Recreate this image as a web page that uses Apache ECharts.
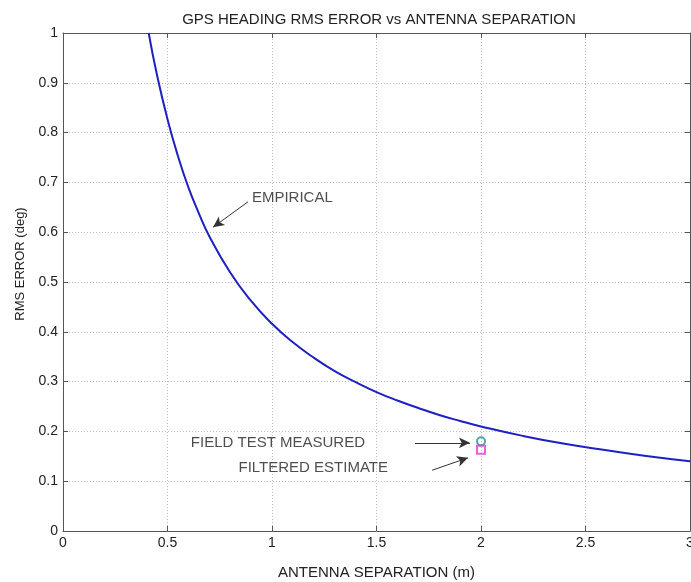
<!DOCTYPE html>
<html>
<head>
<meta charset="utf-8">
<script src="https://cdn.jsdelivr.net/npm/echarts@6/dist/echarts.min.js"></script>
<style>
  html, body { margin: 0; padding: 0; background: #fff; }
  #chart { width: 691px; height: 582px; }
</style>
</head>
<body>
<div id="chart"></div>
<script>
// Empirical heading RMS error curve
const separation = [0.41, 0.45, 0.5, 0.55, 0.6, 0.65, 0.7, 0.8, 0.9, 1.0, 1.1, 1.2, 1.3, 1.4, 1.5, 1.6, 1.7, 1.8, 1.9, 2.0, 2.2, 2.4, 2.6, 2.8, 3.0];
const rmsError   = [1.0, 0.915, 0.827, 0.753, 0.69, 0.638, 0.592, 0.519, 0.462, 0.416, 0.379, 0.348, 0.321, 0.299, 0.279, 0.262, 0.247, 0.233, 0.221, 0.21, 0.191, 0.175, 0.162, 0.150, 0.140];

// Field test points at 2 m separation
const measuredPoint = [2.0, 0.18];
const filteredPoint = [2.0, 0.163];

// Tick values
const xTicks = [0, 0.5, 1, 1.5, 2, 2.5, 3];
const yTicks = [0, 0.1, 0.2, 0.3, 0.4, 0.5, 0.6, 0.7, 0.8, 0.9, 1];

// Annotation callouts: text, text anchor, arrow start, arrow end (data units)
const noteTexts  = ['EMPIRICAL', 'FIELD TEST MEASURED', 'FILTERED ESTIMATE'];
const noteAnchor = [[0.904, 0.669], [1.445, 0.177], [1.555, 0.127]];
const noteAlign  = ['left', 'right', 'right'];
const arrowFrom  = [[0.885, 0.661], [1.684, 0.177], [1.766, 0.122]];
const arrowTo    = [[0.718, 0.610], [1.947, 0.177], [1.938, 0.147]];

const FONT = 'Liberation Sans, Arial, sans-serif';
const AXIS_COLOR = '#555';
const TEXT_COLOR = '#222';

const chart = echarts.init(document.getElementById('chart'));

const frameAxis = {
  axisLine: { show: true, onZero: false, lineStyle: { color: AXIS_COLOR, width: 1 } },
  axisTick: { show: true, inside: true, length: 5, lineStyle: { color: AXIS_COLOR } },
  axisLabel: { show: false },
  splitLine: { show: false }
};

chart.setOption({
  animation: false,
  backgroundColor: '#fff',
  title: {
    text: 'GPS HEADING RMS ERROR vs ANTENNA SEPARATION',
    left: 374,
    textAlign: 'center',
    top: 7,
    textStyle: { fontFamily: FONT, fontSize: 15, fontWeight: 'normal', color: TEXT_COLOR }
  },
  grid: { left: 63, right: 1, top: 33, bottom: 51, containLabel: false, outerBoundsMode: 'none' },
  xAxis: [
    {
      type: 'value', min: 0, max: 3, interval: 0.5,
      name: 'ANTENNA SEPARATION (m)', nameLocation: 'middle', nameGap: 34,
      nameTextStyle: { fontFamily: FONT, fontSize: 15, color: TEXT_COLOR },
      axisLine: { show: true, onZero: false, lineStyle: { color: AXIS_COLOR, width: 1 } },
      axisTick: { show: true, inside: true, length: 5, lineStyle: { color: AXIS_COLOR } },
      axisLabel: {
        fontFamily: FONT, fontSize: 14, color: TEXT_COLOR, margin: 5,
        formatter: v => xTicks.includes(v) ? String(v) : ''
      },
      splitLine: { show: true, lineStyle: { color: '#bdbdbd', type: [1, 2], width: 1 } }
    },
    Object.assign({ type: 'value', position: 'top', min: 0, max: 3, interval: 0.5 }, frameAxis)
  ],
  yAxis: [
    {
      type: 'value', min: 0, max: 1, interval: 0.1,
      name: 'RMS ERROR (deg)', nameLocation: 'middle', nameGap: 36, nameRotate: 90,
      nameTextStyle: { fontFamily: FONT, fontSize: 13, color: TEXT_COLOR, padding: [0, 0, 0, 36] },
      axisLine: { show: true, onZero: false, lineStyle: { color: AXIS_COLOR, width: 1 } },
      axisTick: { show: true, inside: true, length: 5, lineStyle: { color: AXIS_COLOR } },
      axisLabel: {
        fontFamily: FONT, fontSize: 14, color: TEXT_COLOR, margin: 5,
        formatter: v => {
          const t = yTicks.find(k => Math.abs(k - v) < 1e-9);
          return t === undefined ? '' : String(t);
        }
      },
      splitLine: { show: true, lineStyle: { color: '#bdbdbd', type: [1, 2], width: 1 } }
    },
    Object.assign({ type: 'value', position: 'right', min: 0, max: 1, interval: 0.1 }, frameAxis)
  ],
  series: [
    {
      name: 'EMPIRICAL',
      type: 'line',
      smooth: true,
      showSymbol: false,
      data: separation.map((x, i) => [x, rmsError[i]]),
      lineStyle: { color: '#1f1fc4', width: 2 },
      clip: true,
      z: 3
    },
    {
      name: 'FIELD TEST MEASURED',
      type: 'scatter',
      data: [measuredPoint],
      symbol: 'circle',
      symbolSize: 8,
      itemStyle: { color: 'rgba(0,0,0,0)', borderColor: '#2a8f8f', borderWidth: 2 },
      z: 4
    },
    {
      name: 'FILTERED ESTIMATE',
      type: 'scatter',
      data: [filteredPoint],
      symbol: 'rect',
      symbolSize: 8,
      itemStyle: { color: 'rgba(0,0,0,0)', borderColor: '#e03ad6', borderWidth: 2 },
      z: 4
    },
    {
      // callout text
      name: 'notes',
      type: 'scatter',
      symbolSize: 0,
      silent: true,
      data: noteTexts.map((t, i) => ({
        value: noteAnchor[i],
        label: {
          show: true,
          formatter: t,
          position: noteAlign[i] === 'left' ? 'right' : 'left',
          distance: 0,
          fontFamily: FONT, fontSize: 15, color: TEXT_COLOR
        }
      })),
      // callout arrows
      markLine: {
        silent: true,
        symbol: ['none', 'arrow'],
        symbolSize: [8, 11],
        label: { show: false },
        lineStyle: { color: '#333', width: 1, type: 'solid' },
        data: arrowFrom.map((p, i) => [{ coord: p }, { coord: arrowTo[i] }])
      },
      z: 5
    }
  ]
});
</script>
</body>
</html>
